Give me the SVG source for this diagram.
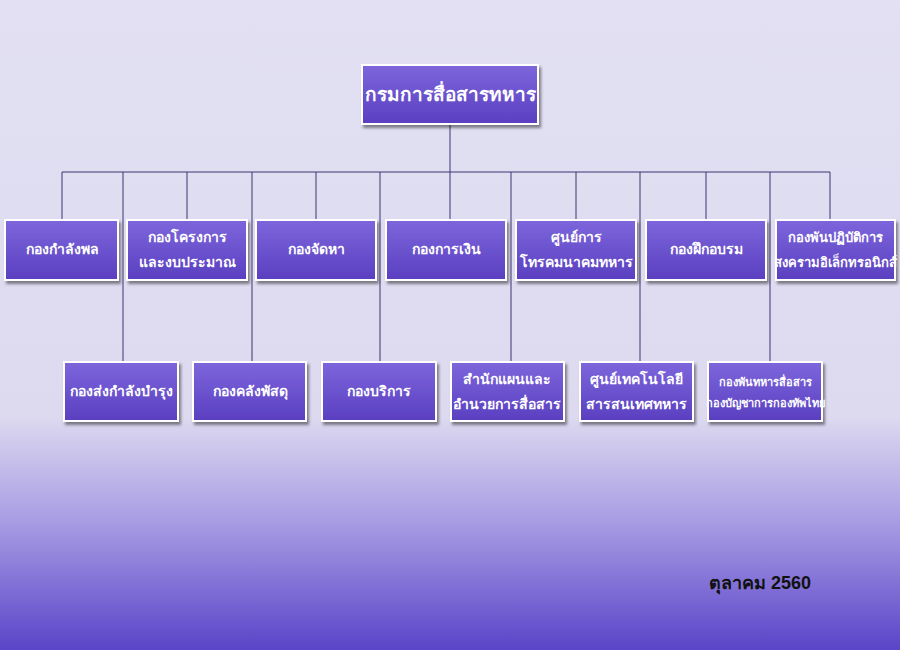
<svg xmlns="http://www.w3.org/2000/svg" width="900" height="650" viewBox="0 0 900 650">
<defs>
<linearGradient id="bg" x1="0" y1="0" x2="0" y2="1">
<stop offset="0" stop-color="#e2e0f2"/><stop offset="0.64" stop-color="#dddaf0"/><stop offset="0.8" stop-color="#a99de4"/><stop offset="1" stop-color="#5a44c8"/>
</linearGradient>
<linearGradient id="bx" x1="0" y1="0" x2="0" y2="1">
<stop offset="0" stop-color="#7d66dc"/><stop offset="1" stop-color="#5a3fc0"/>
</linearGradient>
<filter id="sh" x="-10%" y="-10%" width="125%" height="130%"><feDropShadow dx="2" dy="3" stdDeviation="1.5" flood-color="#000" flood-opacity="0.45"/></filter>
</defs>
<style>
.b{fill:url(#bx);stroke:#fff;stroke-width:2;filter:url(#sh)}
.t{fill:#fff;font-family:"Liberation Sans","Noto Sans",sans-serif;font-weight:bold;font-size:14px;text-anchor:middle}
.s{font-size:11px}
.c{stroke:#3c3470;stroke-width:1;fill:none}
</style>
<rect width="900" height="650" fill="url(#bg)"/>
<g id="connectors" class="c">
<path d="M450 124V172M62 172H830M62 172V220M187 172V220M316 172V220M450 172V220M576 172V220M706 172V220M830 172V220M123 172V362M252 172V362M380 172V362M511 172V362M640 172V362M770 172V362"/>
</g>
<g id="root"><rect class="b" x="362" y="65" width="176" height="59"/><text class="t" x="450" y="101" style="font-size:19px">กรมการสื่อสารทหาร</text></g>
<g id="n1"><rect class="b" x="5" y="220" width="113" height="60"/><text class="t" x="62" y="254">กองกำลังพล</text></g>
<g id="n2"><rect class="b" x="127" y="220" width="120" height="60"/><text class="t" x="187" y="242">กองโครงการ</text><text class="t" x="187" y="267">และงบประมาณ</text></g>
<g id="n3"><rect class="b" x="256" y="220" width="120" height="60"/><text class="t" x="316" y="254">กองจัดหา</text></g>
<g id="n4"><rect class="b" x="386" y="220" width="120" height="60"/><text class="t" x="446" y="254">กองการเงิน</text></g>
<g id="n5"><rect class="b" x="516" y="220" width="120" height="60"/><text class="t" x="576" y="242">ศูนย์การ</text><text class="t" x="576" y="267">โทรคมนาคมทหาร</text></g>
<g id="n6"><rect class="b" x="646" y="220" width="120" height="60"/><text class="t" x="706" y="254">กองฝึกอบรม</text></g>
<g id="n7"><rect class="b" x="776" y="220" width="119" height="60"/><text class="t s" x="835" y="242" style="font-size:13px">กองพันปฏิบัติการ</text><text class="t" x="835" y="267" style="font-size:13px">สงครามอิเล็กทรอนิกส์</text></g>
<g id="m1"><rect class="b" x="64" y="362" width="114" height="59"/><text class="t" x="121" y="396">กองส่งกำลังบำรุง</text></g>
<g id="m2"><rect class="b" x="193" y="362" width="113" height="59"/><text class="t" x="250" y="396">กองคลังพัสดุ</text></g>
<g id="m3"><rect class="b" x="322" y="362" width="114" height="59"/><text class="t" x="379" y="396">กองบริการ</text></g>
<g id="m4"><rect class="b" x="451" y="362" width="113" height="59"/><text class="t" x="507" y="384">สำนักแผนและ</text><text class="t" x="507" y="409">อำนวยการสื่อสาร</text></g>
<g id="m5"><rect class="b" x="580" y="362" width="113" height="59"/><text class="t" x="636" y="384">ศูนย์เทคโนโลยี</text><text class="t" x="636" y="409">สารสนเทศทหาร</text></g>
<g id="m6"><rect class="b" x="708" y="362" width="114" height="59"/><text class="t s" x="765" y="386">กองพันทหารสื่อสาร</text><text class="t s" x="765" y="407">กองบัญชาการกองทัพไทย</text></g>
<text x="760" y="589" style="font-family:'Liberation Sans','Noto Sans',sans-serif;font-weight:bold;font-size:18px;text-anchor:middle" fill="#111">ตุลาคม 2560</text>
</svg>
